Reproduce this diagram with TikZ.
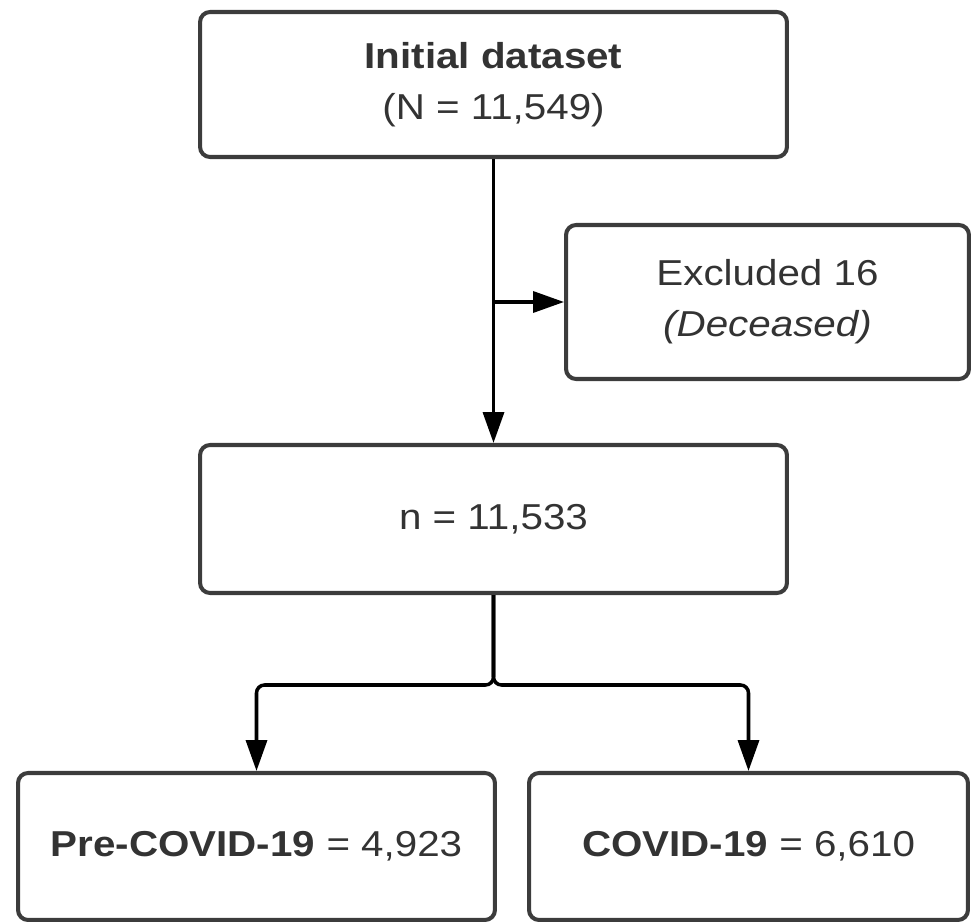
\documentclass[tikz,border=0pt]{standalone}
\usepackage{fontspec}
\setmainfont[FakeStretch=1.12]{Liberation Sans}
\usetikzlibrary{arrows.meta}

\definecolor{boxgray}{HTML}{3C3C3C}
\definecolor{textgray}{HTML}{333333}

\tikzset{
    box/.style={draw=boxgray, line width=2.3pt, rounded corners=0.2cm, align=center,
        text=textgray, font=\fontsize{20.5}{29}\selectfont, inner sep=0pt},
    conn/.style={line width=2pt, black, -{Triangle[length=0.62cm, width=0.42cm]}}
}

\begin{document}
\begin{tikzpicture}[x=0.02cm, y=-0.02cm]
    \useasboundingbox (0,0) rectangle (971,922);

    % Boites
    \node[box, minimum width=11.74cm, minimum height=2.9cm] (init) at (493.5,84.5)
        {\textbf{Initial dataset}\\(N = 11,549)};
    \node[box, minimum width=8.06cm, minimum height=3.08cm] (excl) at (767.5,302)
        {Excluded 16\\\textit{(Deceased)}};
    \node[box, minimum width=11.74cm, minimum height=2.96cm] (n) at (493.5,519)
        {n = 11,533};
    \node[box, minimum width=9.54cm, minimum height=2.94cm] (pre) at (256.5,846.5)
        {\textbf{Pre-COVID-19} = 4,923};
    \node[box, minimum width=8.78cm, minimum height=2.94cm] (cov) at (748.5,846.5)
        {\textbf{COVID-19} = 6,610};

    % Fleches
    \draw[conn] (init.south) -- (n.north);
    \draw[conn] (init.south |- excl.west) -- (excl.west);

    % Separation
    \coordinate (split) at (493.5,685);
    \draw[conn, rounded corners=0.16cm] (n.south) -- (split) -| (pre.north);
    \draw[conn, rounded corners=0.16cm] (n.south) -- (split) -| (cov.north);
\end{tikzpicture}
\end{document}
